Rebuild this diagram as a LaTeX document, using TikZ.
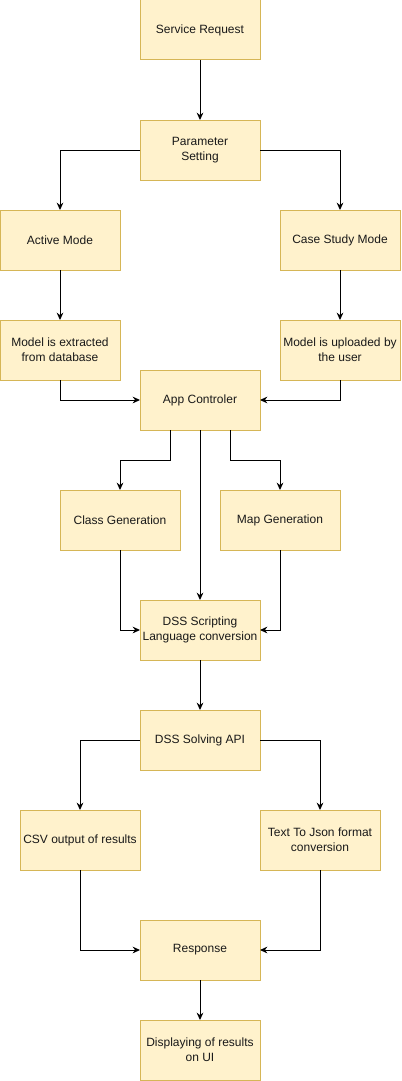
\documentclass[tikz,border=0pt]{standalone}
\usepackage{fontspec}
\setmainfont{Liberation Sans}
\usepackage{tikz}
\usetikzlibrary{arrows.meta,positioning}
\definecolor{boxfill}{HTML}{FFF2CC}
\definecolor{boxline}{HTML}{D6B656}
\begin{document}
\begin{tikzpicture}[
  x=0.75pt,y=-0.75pt,
  node distance=45pt,
  stage/.style={draw=boxline,fill=boxfill,line width=0.75pt,minimum width=90pt,minimum height=45pt,
    inner sep=0pt,outer sep=0pt,align=center,font=\fontsize{9}{11.25}\selectfont,text=black!90},
  arr/.style={-{Stealth[length=5.5pt,width=5pt]},line width=0.75pt}
]
\useasboundingbox (0,0) rectangle (401,1081);
\node[stage] at (200,30) (svc) {Service Request};
\node[stage,below=of svc] (param) {Parameter\\Setting};
\node[stage] at (60,240)  (active) {Active Mode};
\node[stage] at (340,240) (case) {Case Study Mode};
\node[stage] at (60,350)  (extr) {Model is extracted\\from database};
\node[stage] at (340,350) (upl) {Model is uploaded by\\the user};
\node[stage] at (200,400) (app) {App Controler};
\node[stage] at (120,520) (cls) {Class Generation};
\node[stage] at (280,520) (map) {Map Generation};
\node[stage] at (200,630) (script) {DSS Scripting\\Language conversion};
\node[stage,below=37.5pt of script] (solve) {DSS Solving API};
\node[stage] at (80,840)  (csv) {CSV output of results};
\node[stage] at (320,840) (json) {Text To Json format\\conversion};
\node[stage] at (200,950) (resp) {Response};
\node[stage,below=30pt of resp] (disp) {Displaying of results\\on UI};
% request and mode choice
\draw[arr] (svc) -- (param);
\draw[arr] (param.west) -| (active.north);
\draw[arr] (param.east) -| (case.north);
\draw[arr] (active) -- (extr);
\draw[arr] (case) -- (upl);
\draw[arr] (extr.south) |- (app.west);
\draw[arr] (upl.south) |- (app.east);
% controller
\draw[arr] ([xshift=-22.5pt]app.south) -- ++(0,30) -| (cls.north);
\draw[arr] ([xshift=22.5pt]app.south) -- ++(0,30) -| (map.north);
\draw[arr] (app) -- (script);
\draw[arr] (cls.south) |- (script.west);
\draw[arr] (map.south) |- (script.east);
% solving and results
\draw[arr] (script) -- (solve);
\draw[arr] (solve.west) -| (csv.north);
\draw[arr] (solve.east) -| (json.north);
\draw[arr] (csv.south) |- (resp.west);
\draw[arr] (json.south) |- (resp.east);
\draw[arr] (resp) -- (disp);
\end{tikzpicture}
\end{document}
